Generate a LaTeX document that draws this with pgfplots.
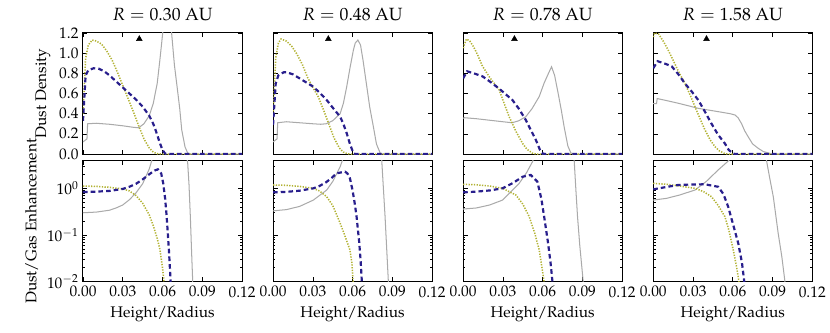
\documentclass[border=0pt]{standalone}
\usepackage[T1]{fontenc}
\usepackage{mathpazo}
\usepackage{pgfplots}
\pgfplotsset{compat=1.18}
\usepgfplotslibrary{groupplots}
\usetikzlibrary{calc}
\definecolor{dustolive}{RGB}{178,178,52}
\definecolor{dustnavy}{RGB}{40,30,140}
\definecolor{gasgray}{RGB}{170,170,170}

\tikzset{
  smalld/.style={color=dustolive, line width=1.2pt, dash pattern=on 1pt off 1.1pt},
  bigd/.style={color=dustnavy, line width=1.7pt, dash pattern=on 3.6pt off 2.4pt},
  gasl/.style={color=gasgray, line width=0.8pt},
}

\begin{document}
\begin{tikzpicture}
\begin{groupplot}[
  group style={group size=4 by 2, horizontal sep=24.2pt, vertical sep=5.2pt,
    xticklabels at=edge bottom, yticklabels at=edge left},
  scale only axis, width=124pt, height=94.4pt,
  xmin=0, xmax=0.12, xtick={0,0.03,0.06,0.09,0.12},
  xticklabel style={/pgf/number format/.cd, fixed, fixed zerofill, precision=2},
  tick label style={font=\fontsize{12}{14}\selectfont},
  label style={font=\fontsize{12}{14}\selectfont},
  title style={font=\fontsize{13.8}{16}\selectfont},
  tick align=inside, tick pos=both,
  major tick length=3.5pt, minor tick length=1.8pt,
  every tick/.style={black, line width=0.5pt},
  axis line style={line width=0.8pt},
]
% ---- top row: dust density
\nextgroupplot[ymin=0, ymax=1.2, ytick={0,0.2,0.4,0.6,0.8,1.0,1.2},
    yticklabel style={/pgf/number format/.cd, fixed, fixed zerofill, precision=1},
    title={$R = 0.30$ AU}, ylabel={Dust Density}]
\addplot[gasl] coordinates {(0,0.12)(0.003,0.15)(0.0035,0.30)(0.010,0.305)(0.020,0.295)(0.030,0.28)(0.038,0.265)(0.042,0.26)(0.046,0.30)(0.050,0.38)(0.053,0.50)(0.056,0.70)(0.058,0.93)(0.060,1.18)(0.062,1.45)(0.0635,1.55)(0.065,1.45)(0.067,1.18)(0.069,0.88)(0.0707,0.70)(0.073,0.45)(0.0745,0.24)(0.077,0.07)(0.079,0.01)(0.081,0)(0.120,0)};
\addplot[smalld] coordinates {(0,0.40)(0.002,0.95)(0.004,1.08)(0.007,1.13)(0.010,1.12)(0.014,1.09)(0.018,1.02)(0.022,0.93)(0.026,0.81)(0.030,0.68)(0.034,0.55)(0.038,0.42)(0.042,0.28)(0.046,0.15)(0.050,0.06)(0.053,0.02)(0.056,0.003)(0.060,0)(0.120,0)};
\addplot[bigd] coordinates {(0,0.33)(0.002,0.78)(0.004,0.83)(0.008,0.85)(0.012,0.845)(0.016,0.82)(0.020,0.78)(0.025,0.72)(0.030,0.66)(0.035,0.60)(0.040,0.54)(0.045,0.47)(0.050,0.38)(0.053,0.30)(0.055,0.23)(0.058,0.11)(0.060,0.04)(0.062,0.005)(0.064,0)(0.120,0)};
\addplot[only marks, mark=triangle*, mark size=2.6pt, black] coordinates {(0.0425,1.14)};

\nextgroupplot[ymin=0, ymax=1.2, ytick={0,0.2,0.4,0.6,0.8,1.0,1.2},
    title={$R = 0.48$ AU}]
\addplot[gasl] coordinates {(0,0.12)(0.003,0.15)(0.0035,0.31)(0.010,0.32)(0.020,0.31)(0.030,0.30)(0.036,0.295)(0.040,0.30)(0.045,0.33)(0.0506,0.40)(0.053,0.50)(0.0556,0.67)(0.058,0.85)(0.0606,1.03)(0.062,1.10)(0.064,1.13)(0.066,1.08)(0.068,0.92)(0.0707,0.67)(0.073,0.46)(0.0757,0.27)(0.078,0.10)(0.0808,0.01)(0.083,0)(0.120,0)};
\addplot[smalld] coordinates {(0,0.37)(0.002,0.95)(0.004,1.10)(0.006,1.14)(0.010,1.12)(0.014,1.07)(0.018,0.99)(0.022,0.89)(0.026,0.76)(0.030,0.66)(0.034,0.57)(0.038,0.44)(0.042,0.30)(0.046,0.16)(0.050,0.06)(0.053,0.02)(0.056,0.003)(0.058,0)(0.120,0)};
\addplot[bigd] coordinates {(0,0.29)(0.002,0.70)(0.004,0.78)(0.008,0.81)(0.0103,0.81)(0.015,0.79)(0.020,0.75)(0.025,0.71)(0.030,0.67)(0.035,0.61)(0.0405,0.535)(0.045,0.46)(0.0506,0.37)(0.053,0.30)(0.0556,0.205)(0.058,0.10)(0.0606,0.01)(0.062,0)(0.120,0)};
\addplot[only marks, mark=triangle*, mark size=2.6pt, black] coordinates {(0.0417,1.14)};

\nextgroupplot[ymin=0, ymax=1.2, ytick={0,0.2,0.4,0.6,0.8,1.0,1.2},
    title={$R = 0.78$ AU}]
\addplot[gasl] coordinates {(0,0.354)(0.001,0.36)(0.010,0.35)(0.020,0.335)(0.030,0.32)(0.037,0.31)(0.042,0.33)(0.0473,0.37)(0.052,0.45)(0.0574,0.57)(0.061,0.70)(0.0637,0.78)(0.0667,0.865)(0.069,0.78)(0.0712,0.635)(0.074,0.44)(0.0762,0.27)(0.079,0.08)(0.0813,0.01)(0.084,0)(0.120,0)};
\addplot[smalld] coordinates {(0,1.05)(0.0025,1.14)(0.005,1.12)(0.008,1.06)(0.011,0.98)(0.0146,0.87)(0.020,0.76)(0.0272,0.635)(0.031,0.50)(0.0347,0.37)(0.040,0.22)(0.0448,0.106)(0.048,0.05)(0.052,0.01)(0.055,0)(0.120,0)};
\addplot[bigd] coordinates {(0,0.75)(0.003,0.82)(0.008,0.80)(0.0146,0.77)(0.020,0.72)(0.027,0.65)(0.0372,0.535)(0.042,0.45)(0.0473,0.337)(0.051,0.24)(0.0549,0.139)(0.058,0.04)(0.060,0.005)(0.062,0)(0.120,0)};
\addplot[only marks, mark=triangle*, mark size=2.6pt, black] coordinates {(0.0387,1.14)};

\nextgroupplot[ymin=0, ymax=1.2, ytick={0,0.2,0.4,0.6,0.8,1.0,1.2},
    title={$R = 1.58$ AU}]
\addplot[gasl] coordinates {(0,0.50)(0.0025,0.50)(0.003,0.55)(0.010,0.53)(0.020,0.50)(0.034,0.453)(0.049,0.42)(0.058,0.40)(0.0617,0.387)(0.064,0.36)(0.0667,0.30)(0.069,0.23)(0.0717,0.17)(0.075,0.10)(0.0793,0.056)(0.083,0.025)(0.087,0.01)(0.090,0)(0.120,0)};
\addplot[smalld] coordinates {(0,1.16)(0.001,1.20)(0.004,1.19)(0.008,1.11)(0.0113,1.03)(0.015,0.93)(0.019,0.82)(0.0239,0.70)(0.028,0.58)(0.0315,0.47)(0.035,0.36)(0.039,0.24)(0.043,0.14)(0.0466,0.073)(0.050,0.03)(0.054,0.005)(0.056,0)(0.120,0)};
\addplot[bigd] coordinates {(0,0.85)(0.0033,0.92)(0.008,0.90)(0.0139,0.87)(0.019,0.79)(0.0239,0.70)(0.029,0.62)(0.034,0.535)(0.039,0.42)(0.044,0.30)(0.049,0.19)(0.054,0.106)(0.057,0.04)(0.0604,0.005)(0.062,0)(0.120,0)};
\addplot[only marks, mark=triangle*, mark size=2.6pt, black] coordinates {(0.0402,1.14)};

% ---- bottom row: dust/gas enhancement
\nextgroupplot[ymode=log, ymin=0.01, ymax=3.9, ytick={0.01,0.1,1},
    minor ytick={0.02,0.03,0.04,0.05,0.06,0.07,0.08,0.09,0.2,0.3,0.4,0.5,0.6,0.7,0.8,0.9,2,3},
    xlabel={Height/Radius}, ylabel={Dust/Gas Enhancement}]
\addplot[gasl] coordinates {(0,0.30)(0.010,0.31)(0.020,0.34)(0.025,0.38)(0.030,0.44)(0.035,0.57)(0.040,0.80)(0.045,1.25)(0.050,2.6)(0.053,5)(0.055,8)(0.065,30)(0.077,8)(0.079,3.5)(0.080,1.2)(0.081,0.25)(0.082,0.04)(0.0828,0.01)(0.0833,0.004)};
\addplot[smalld] coordinates {(0,1.12)(0.010,1.10)(0.020,1.05)(0.030,0.97)(0.035,0.88)(0.040,0.70)(0.045,0.48)(0.050,0.27)(0.053,0.16)(0.056,0.085)(0.058,0.05)(0.060,0.02)(0.0615,0.008)};
\addplot[bigd] coordinates {(0,0.83)(0.010,0.85)(0.020,0.88)(0.030,0.97)(0.035,1.08)(0.040,1.25)(0.045,1.55)(0.050,2.0)(0.054,2.4)(0.0565,2.55)(0.059,2.1)(0.0605,1.3)(0.062,0.6)(0.063,0.28)(0.064,0.11)(0.065,0.04)(0.066,0.012)(0.0665,0.006)};

\nextgroupplot[ymode=log, ymin=0.01, ymax=3.9, ytick={0.01,0.1,1},
    minor ytick={0.02,0.03,0.04,0.05,0.06,0.07,0.08,0.09,0.2,0.3,0.4,0.5,0.6,0.7,0.8,0.9,2,3},
    xlabel={Height/Radius}]
\addplot[gasl] coordinates {(0,0.33)(0.010,0.35)(0.020,0.41)(0.0304,0.56)(0.0405,0.92)(0.045,1.4)(0.0506,2.9)(0.053,4.5)(0.056,10)(0.070,40)(0.081,6)(0.082,4)(0.0845,0.25)(0.087,0.01)(0.0875,0.005)};
\addplot[smalld] coordinates {(0,1.18)(0.010,1.16)(0.020,1.10)(0.0304,1.0)(0.035,0.88)(0.0405,0.66)(0.045,0.43)(0.0506,0.18)(0.054,0.10)(0.058,0.048)(0.0595,0.025)(0.0604,0.01)(0.061,0.006)};
\addplot[bigd] coordinates {(0,0.82)(0.010,0.84)(0.020,0.89)(0.0304,1.0)(0.035,1.12)(0.040,1.35)(0.044,1.65)(0.048,2.1)(0.0543,2.27)(0.056,2.1)(0.058,1.64)(0.060,0.9)(0.0615,0.5)(0.063,0.25)(0.065,0.07)(0.066,0.03)(0.067,0.01)(0.0675,0.006)};

\nextgroupplot[ymode=log, ymin=0.01, ymax=3.9, ytick={0.01,0.1,1},
    minor ytick={0.02,0.03,0.04,0.05,0.06,0.07,0.08,0.09,0.2,0.3,0.4,0.5,0.6,0.7,0.8,0.9,2,3},
    xlabel={Height/Radius}]
\addplot[gasl] coordinates {(0,0.36)(0.010,0.38)(0.020,0.44)(0.0297,0.56)(0.0423,1.28)(0.048,2.2)(0.0523,3.7)(0.056,7)(0.070,40)(0.083,6)(0.0838,3.9)(0.085,1.0)(0.0863,0.25)(0.088,0.06)(0.0906,0.01)(0.091,0.006)};
\addplot[smalld] coordinates {(0,1.22)(0.010,1.19)(0.020,1.12)(0.0297,1.0)(0.0398,0.72)(0.045,0.46)(0.0498,0.25)(0.054,0.11)(0.0574,0.048)(0.060,0.016)(0.0611,0.01)(0.0618,0.006)};
\addplot[bigd] coordinates {(0,0.82)(0.010,0.85)(0.020,0.90)(0.0297,1.0)(0.038,1.32)(0.0448,1.77)(0.051,1.93)(0.056,1.39)(0.059,0.6)(0.0611,0.25)(0.064,0.07)(0.066,0.025)(0.0674,0.01)(0.068,0.006)};

\nextgroupplot[ymode=log, ymin=0.01, ymax=3.9, ytick={0.01,0.1,1},
    minor ytick={0.02,0.03,0.04,0.05,0.06,0.07,0.08,0.09,0.2,0.3,0.4,0.5,0.6,0.7,0.8,0.9,2,3},
    xlabel={Height/Radius}]
\addplot[gasl] coordinates {(0,0.56)(0.010,0.61)(0.020,0.72)(0.0315,0.92)(0.040,1.4)(0.049,2.47)(0.055,3.5)(0.058,4.2)(0.070,20)(0.085,4.5)(0.0855,3.9)(0.088,1.6)(0.0906,0.66)(0.0943,0.108)(0.097,0.035)(0.0994,0.01)(0.100,0.008)};
\addplot[smalld] coordinates {(0,1.28)(0.010,1.22)(0.020,1.12)(0.0315,1.0)(0.038,0.85)(0.044,0.66)(0.049,0.43)(0.054,0.25)(0.057,0.13)(0.0604,0.048)(0.063,0.02)(0.0647,0.01)(0.0655,0.006)};
\addplot[bigd] coordinates {(0,0.95)(0.010,1.07)(0.0189,1.18)(0.030,1.21)(0.039,1.22)(0.049,1.08)(0.053,0.75)(0.0566,0.40)(0.060,0.18)(0.0642,0.066)(0.067,0.025)(0.0687,0.01)(0.0695,0.006)};
\end{groupplot}
% page margins as in the reference
\path ($(group c1r1.north west)+(-64.7pt,25.7pt)$) rectangle ($(group c4r2.south east)+(13.3pt,-39.2pt)$);
\end{tikzpicture}
\end{document}
